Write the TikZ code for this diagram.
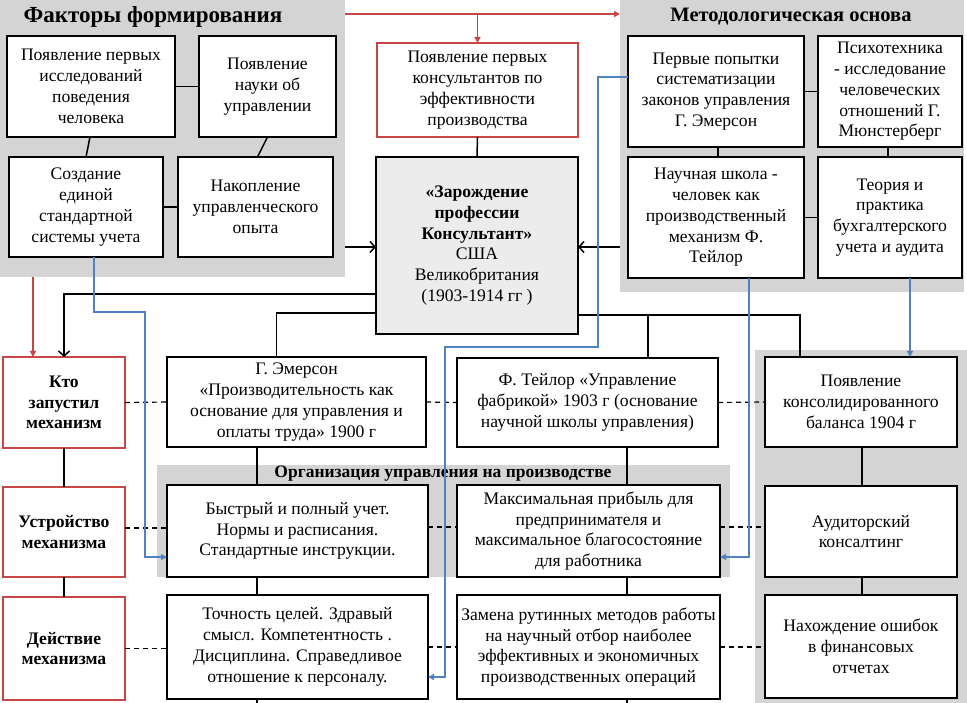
\documentclass[tikz,border=0pt]{standalone}
\usepackage{fontspec}
\setmainfont{Liberation Serif}
\usetikzlibrary{arrows.meta}
\definecolor{myred}{RGB}{200,70,70}
\definecolor{myblue}{RGB}{80,130,195}
\definecolor{panelgray}{RGB}{212,212,212}
\definecolor{boxgray}{RGB}{236,236,236}
\begin{document}
\begin{tikzpicture}[x=1pt,y=-1pt,
  box/.style={draw, line width=1.6pt, fill=white, align=center, inner sep=0pt, outer sep=0pt, font=\fontsize{17.6}{20.8}\selectfont},
  redbox/.style={box, draw=myred},
  bbox/.style={redbox, font=\bfseries\fontsize{17.6}{20.8}\selectfont},
  panel/.style={fill=panelgray, draw=none, inner sep=0pt, outer sep=0pt},
  ttl/.style={font=\bfseries\fontsize{23}{24}\selectfont, inner sep=0pt},
  conn/.style={line width=1.5pt},
  dsh/.style={line width=1.2pt, dash pattern=on 5pt off 4pt},
  bl/.style={draw=myblue, line width=1.3pt},
  blarr/.style={bl, -{Triangle[length=6pt,width=6pt]}},
  redarr/.style={draw=myred, line width=1.5pt, -{Triangle[length=6pt,width=6pt]}},
  blkarr/.style={conn, -{Straight Barb[length=5pt,width=11pt]}}
]
\useasboundingbox (0,0) rectangle (967,703);
% panels
\node[panel, minimum width=345pt, minimum height=277pt] (pA) at (172.5,138.5) {};
\node[panel, minimum width=344pt, minimum height=292pt] (pB) at (792,146) {};
\node[panel, minimum width=573pt, minimum height=112pt] (pC) at (443.5,521) {};
\node[panel, minimum width=212pt, minimum height=353pt] (pD) at (861,526.5) {};
% titles
\node[ttl] (tA) at (153,17) {Факторы формирования};
\node[ttl, font=\bfseries\fontsize{20.5}{22}\selectfont] (tB) at (791,17) {Методологическая основа};
\node[ttl, font=\bfseries\fontsize{17.5}{18}\selectfont] (tC) at (443,474) {Организация управления на производстве};
% left panel boxes
\node[box, minimum width=168pt, minimum height=101pt] (A) at (91,86.5) {Появление первых\\исследований\\поведения\\человека};
\node[box, minimum width=137pt, minimum height=101pt] (B) at (267.5,86.5) {Появление\\науки об\\управлении};
\node[box, minimum width=154pt, minimum height=100pt] (C) at (86,207) {Создание\\единой\\стандартной\\системы учета};
\node[box, minimum width=155pt, minimum height=100pt] (D) at (255.5,207) {Накопление\\управленческого\\опыта};
% right panel boxes
\node[box, minimum width=176pt, minimum height=111pt] (E) at (716,91.5) {Первые попытки\\систематизации\\законов управления\\Г. Эмерсон};
\node[box, minimum width=144pt, minimum height=111pt] (F) at (890,91.5) {Психотехника\\- исследование\\человеческих\\отношений Г.\\Мюнстерберг};
\node[box, minimum width=176pt, minimum height=121pt] (G) at (716,217.5) {Научная школа -\\человек как\\производственный\\механизм Ф.\\Тейлор};
\node[box, minimum width=144pt, minimum height=121pt] (H) at (890,217.5) {Теория и\\практика\\бухгалтерского\\учета и аудита};
% centre
\node[redbox, minimum width=201pt, minimum height=94pt] (R) at (477.5,90) {Появление первых\\консультантов по\\эффективности\\производства};
\node[box, fill=boxgray, minimum width=202pt, minimum height=177pt] (Z) at (477,245.5) {\textbf{«Зарождение}\\\textbf{профессии}\\\textbf{Консультант»}\\США\\Великобритания\\(1903-1914 гг )};
% left column
\node[bbox, minimum width=122pt, minimum height=91pt] (K1) at (64,402.5) {Кто\\запустил\\механизм};
\node[bbox, minimum width=122pt, minimum height=90pt] (K2) at (64,532) {Устройство\\механизма};
\node[bbox, minimum width=122pt, minimum height=103pt] (K3) at (64,648.5) {Действие\\механизма};
% Emerson column
\node[box, minimum width=259pt, minimum height=90pt] (M1) at (296.5,402) {Г. Эмерсон\\«Производительность как\\основание для управления и\\оплаты труда» 1900 г};
\node[box, minimum width=261pt, minimum height=92pt] (M2) at (297.5,531) {Быстрый и полный учет.\\Нормы и расписания.\\Стандартные инструкции.};
\node[box, minimum width=261pt, minimum height=104pt] (M3) at (297.5,647) {Точность целей. Здравый\\смысл. Компетентность .\\Дисциплина. Справедливое\\отношение к персоналу.};
% Taylor column
\node[box, minimum width=261pt, minimum height=89pt] (T1) at (587.5,402.5) {Ф. Тейлор «Управление\\фабрикой» 1903 г (основание\\научной школы управления)};
\node[box, minimum width=263pt, minimum height=92pt] (T2) at (588.5,531) {Максимальная прибыль для\\предпринимателя и\\максимальное благосостояние\\для работника};
\node[box, minimum width=263pt, minimum height=104pt] (T3) at (588.5,647) {Замена рутинных методов работы\\на научный отбор наиболее\\эффективных и экономичных\\производственных операций};
% accounting column
\node[box, minimum width=192pt, minimum height=90pt] (P1) at (861,402) {Появление\\консолидированного\\баланса 1904 г};
\node[box, minimum width=192pt, minimum height=91pt] (P2) at (861,531.5) {Аудиторский\\консалтинг};
\node[box, minimum width=192pt, minimum height=103pt] (P3) at (861,646.5) {Нахождение ошибок\\в финансовых\\отчетах};
% coordinates
\coordinate (rs) at (345,14);
\coordinate (re) at (620,14);
\coordinate (rd) at (33,277);
\coordinate (b1) at (145,312);
\coordinate (b2) at (598,347);
\coordinate (b3) at (445,677);
\coordinate (botM) at (257,703);
\coordinate (botT) at (627,703);
% panel internal connectors
\draw[conn] (A.east) -- (B.west);
\draw[conn] ([xshift=-1pt]A.south) -- (C.north);
\draw[conn] (B.south) -- ([xshift=2pt]D.north);
\draw[conn] (C.east) -- (D.west);
\draw[conn] (E.east) -- (F.west);
\draw[conn] ([xshift=2pt]E.south) -- ([xshift=2pt]G.north);
\draw[conn] ([xshift=-2pt]F.south) -- ([xshift=-2pt]H.north);
\draw[conn] (G.east) -- (H.west);
\draw[conn] (R.south) -- (Z.north);
% red arrows
\draw[redarr] (rs) -- (re);
\draw[redarr] (rs -| R.north) -- (R.north);
\draw[redarr] (rd) -- (rd |- K1.north);
% black arrows into centre
\draw[blkarr] (pA.east |- 0,247) -- (Z.west |- 0,247);
\draw[blkarr] (pB.west |- 0,247) -- (Z.east |- 0,247);
% from centre
\draw[blkarr] (Z.west |- 0,294) -| (K1.north);
\draw[conn] (Z.west |- 0,313) -| ([xshift=-20pt]M1.north);
\draw[conn] (Z.east |- 0,315) -| ([xshift=-61pt]P1.north);
\draw[conn] ([xshift=60.5pt]T1.north) -- ([xshift=60.5pt]T1.north |- 0,315);
% columns
\draw[conn] (K1.south) -- (K2.north);
\draw[conn] (K2.south) -- (K3.north);
\draw[conn] ([xshift=-39.5pt]M1.south) -- ([xshift=-39.5pt]M1.south |- M2.north);
\draw[conn] ([xshift=-40.5pt]M2.south) -- ([xshift=-40.5pt]M2.south |- M3.north);
\draw[conn] (botM |- M3.south) -- (botM);
\draw[conn] ([xshift=39.5pt]T1.south) -- ([xshift=39.5pt]T1.south |- T2.north);
\draw[conn] ([xshift=38.5pt]T2.south) -- ([xshift=38.5pt]T2.south |- T3.north);
\draw[conn] (botT |- T3.south) -- (botT);
\draw[conn] ([xshift=1pt]P1.south) -- ([xshift=1pt]P2.north);
\draw[conn] ([xshift=1pt]P2.south) -- ([xshift=1pt]P3.north);
% dashed rows
\draw[dsh] (K1.east) -- (M1.west);
\draw[dsh] (M1.east) -- (T1.west);
\draw[dsh] (T1.east) -- (P1.west);
\draw[dsh] ([yshift=4pt]K2.east) -- ([yshift=4pt]K2.east -| M2.west);
\draw[dsh] ([yshift=4pt]M2.east) -- ([yshift=4pt]M2.east -| T2.west);
\draw[dsh] ([yshift=4pt]T2.east) -- ([yshift=4pt]T2.east -| P2.west);
\draw[dsh] (K3.east) -- (K3.east -| M3.west);
\draw[dsh] (M3.east) -- (M3.east -| T3.west);
\draw[dsh] (T3.east) -- (T3.east -| P3.west);
% blue arrows
\draw[blarr] ([xshift=8pt]C.south) |- (b1) |- ([yshift=-26pt]M2.west);
\draw[blarr] ([yshift=14.5pt]E.west) -| (b2) -| (b3) -- ([yshift=-30pt]M3.east);
\draw[blarr] ([xshift=33pt]G.south) |- ([yshift=-26pt]T2.east);
\draw[blarr] ([xshift=20pt]H.south) -- ([xshift=20pt]H.south |- P1.north);
\end{tikzpicture}
\end{document}
